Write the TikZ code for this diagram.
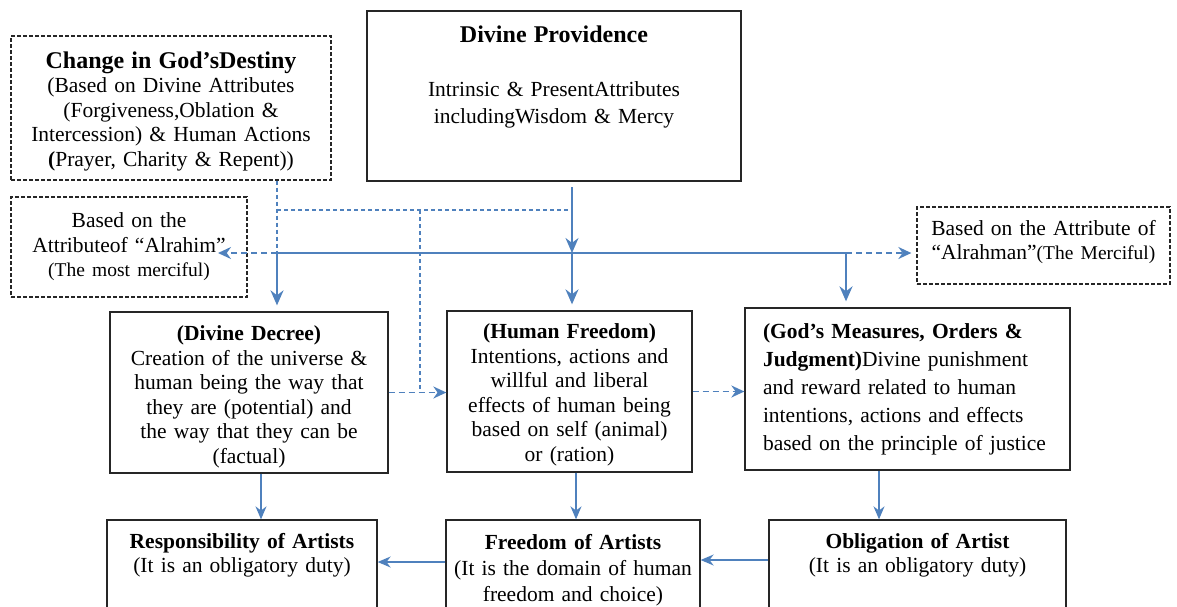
\documentclass[tikz,border=0pt]{standalone}
\usepackage{fontspec}
\setmainfont{Liberation Serif}
\usepackage{xcolor}
\usetikzlibrary{arrows.meta}
\usetikzlibrary{calc}
\definecolor{arrowblue}{RGB}{79,129,189}
\newcommand{\bodysize}{\fontsize{21.5}{24.5}\selectfont}
\newcommand{\titlesize}{\fontsize{24}{25}\selectfont\bfseries}
\newcommand{\smallsize}{\fontsize{19.5}{20}\selectfont}
\tikzset{
  box/.style={draw=black!85, line width=1.3pt, align=center, inner xsep=2pt, font=\bodysize},
  dashbox/.style={box, dash pattern=on 4pt off 2pt},
  trunk/.style={draw=arrowblue, line width=2pt},
  flow/.style={trunk, -{Stealth[length=15pt,width=13pt]}},
  link/.style={draw=arrowblue, line width=1.5pt, -{Stealth[length=13pt,width=11pt]}},
  hint/.style={draw=arrowblue, line width=1.8pt, dash pattern=on 6pt off 4pt, -{Stealth[length=13pt,width=12pt]}},
  thinhint/.style={draw=arrowblue, line width=1.1pt, dash pattern=on 4pt off 3pt}
}

\begin{document}
\begin{tikzpicture}[x=1pt,y=-1pt]
\clip (0,0) rectangle (1177,606);
\node[dashbox, text width=316pt, minimum height=144pt] (change) at (171,108) {\rule{0pt}{23pt}{\titlesize Change in God’sDestiny}\\(Based on Divine Attributes\\(Forgiveness,Oblation \&\\Intercession) \& Human Actions\\\textbf{(}Prayer, Charity \& Repent))};
\node[box, line width=2.5pt, text width=370pt, minimum height=170pt, font=\fontsize{21.5}{27}\selectfont] (prov) at (554,96) {{\titlesize Divine Providence}\\[27pt]Intrinsic \& PresentAttributes\\includingWisdom \& Mercy\\[16.5pt]\mbox{}};
\node[dashbox, text width=232pt, minimum height=100pt] (alrahim) at (129,247) {Based on the\\Attributeof “Alrahim”\\{\smallsize(The most merciful)}};
\node[dashbox, text width=249pt, minimum height=77pt] (alrahman) at (1043.5,245.5) {Based on the Attribute of\\“Alrahman”{\smallsize(The Merciful)}\\[-13pt]\mbox{}};
\node[box, text width=274pt, minimum height=161pt] (decree) at (249,392.5) {\rule{0pt}{24pt}\textbf{(Divine Decree)}\\Creation of the universe \&\\human being the way that\\they are (potential) and\\the way that they can be\\(factual)};
\node[box, text width=241pt, minimum height=161pt] (freedom) at (569.5,391.5) {\rule{0pt}{22pt}\textbf{(Human Freedom)}\\Intentions, actions and\\willful and liberal\\effects of human being\\based on self (animal)\\or (ration)};
\node[box, align=left, inner xsep=18pt, text width=289pt, minimum height=162pt, font=\fontsize{21.5}{28}\selectfont] (measures) at (907.5,389) {\textbf{(God’s Measures, Orders \&}\\\textbf{Judgment)}Divine punishment\\and reward related to human\\intentions, actions and effects\\based on the principle of justice};
\node[box, text width=266pt, minimum height=110pt] (resp) at (242,575) {\textbf{Responsibility of Artists}\\(It is an obligatory duty)\\[20pt]\mbox{}};
\node[box, text width=250pt, minimum height=110pt, font=\fontsize{21.5}{26}\selectfont] (freeart) at (573,575) {\textbf{Freedom of Artists}\\(It is the domain of human\\freedom and choice)\\[-11pt]\mbox{}};
\node[box, text width=293pt, minimum height=110pt] (oblig) at (917.5,575) {\textbf{Obligation of Artist}\\(It is an obligatory duty)\\[20pt]\mbox{}};
\coordinate (jleft) at (277,253);
\coordinate (jmid) at (572,253);
\coordinate (jright) at (846,253);
\coordinate (jdash) at (572,210);
\coordinate (jdrop) at (420,210);
\coordinate (rahimtip) at (218,253);
\draw[thinhint] (change.south -| jleft) -- (jleft);
\draw[thinhint] (jleft |- jdash) -- (jdash);
\draw[thinhint] (jdrop) -- (jdrop |- decree.east);
\draw[flow, shorten <=5pt] (prov.south -| jmid) -- (jmid);
\draw[trunk] (jleft) -- (jright);
\draw[flow, shorten >=6pt] (jleft) -- (decree.north -| jleft);
\draw[flow, shorten >=6pt] (jmid) -- (freedom.north -| jmid);
\draw[flow, shorten >=6pt] (jright) -- (measures.north -| jright);
\draw[hint] (jleft) -- (rahimtip);
\draw[hint, shorten >=5pt] (jright) -- (alrahman.west |- jright);
\draw[hint] (decree.east) -- (decree.east -| freedom.west);
\draw[hint] (freedom.east) -- (freedom.east -| measures.west);
\draw[link] ($(decree.south)+(12,0)$) -- ($(resp.north)+(19,0)$);
\draw[link] ($(freedom.south)+(6.5,0)$) -- ($(freeart.north)+(3,0)$);
\draw[link] ($(measures.south)+(-28.5,0)$) -- ($(oblig.north)+(-38.5,0)$);
\draw[link] ($(oblig.west)+(0,-15)$) -- ($(freeart.east)+(0,-15)$);
\draw[link] ($(freeart.west)+(0,-13)$) -- ($(resp.east)+(0,-13)$);
\end{tikzpicture}
\end{document}
